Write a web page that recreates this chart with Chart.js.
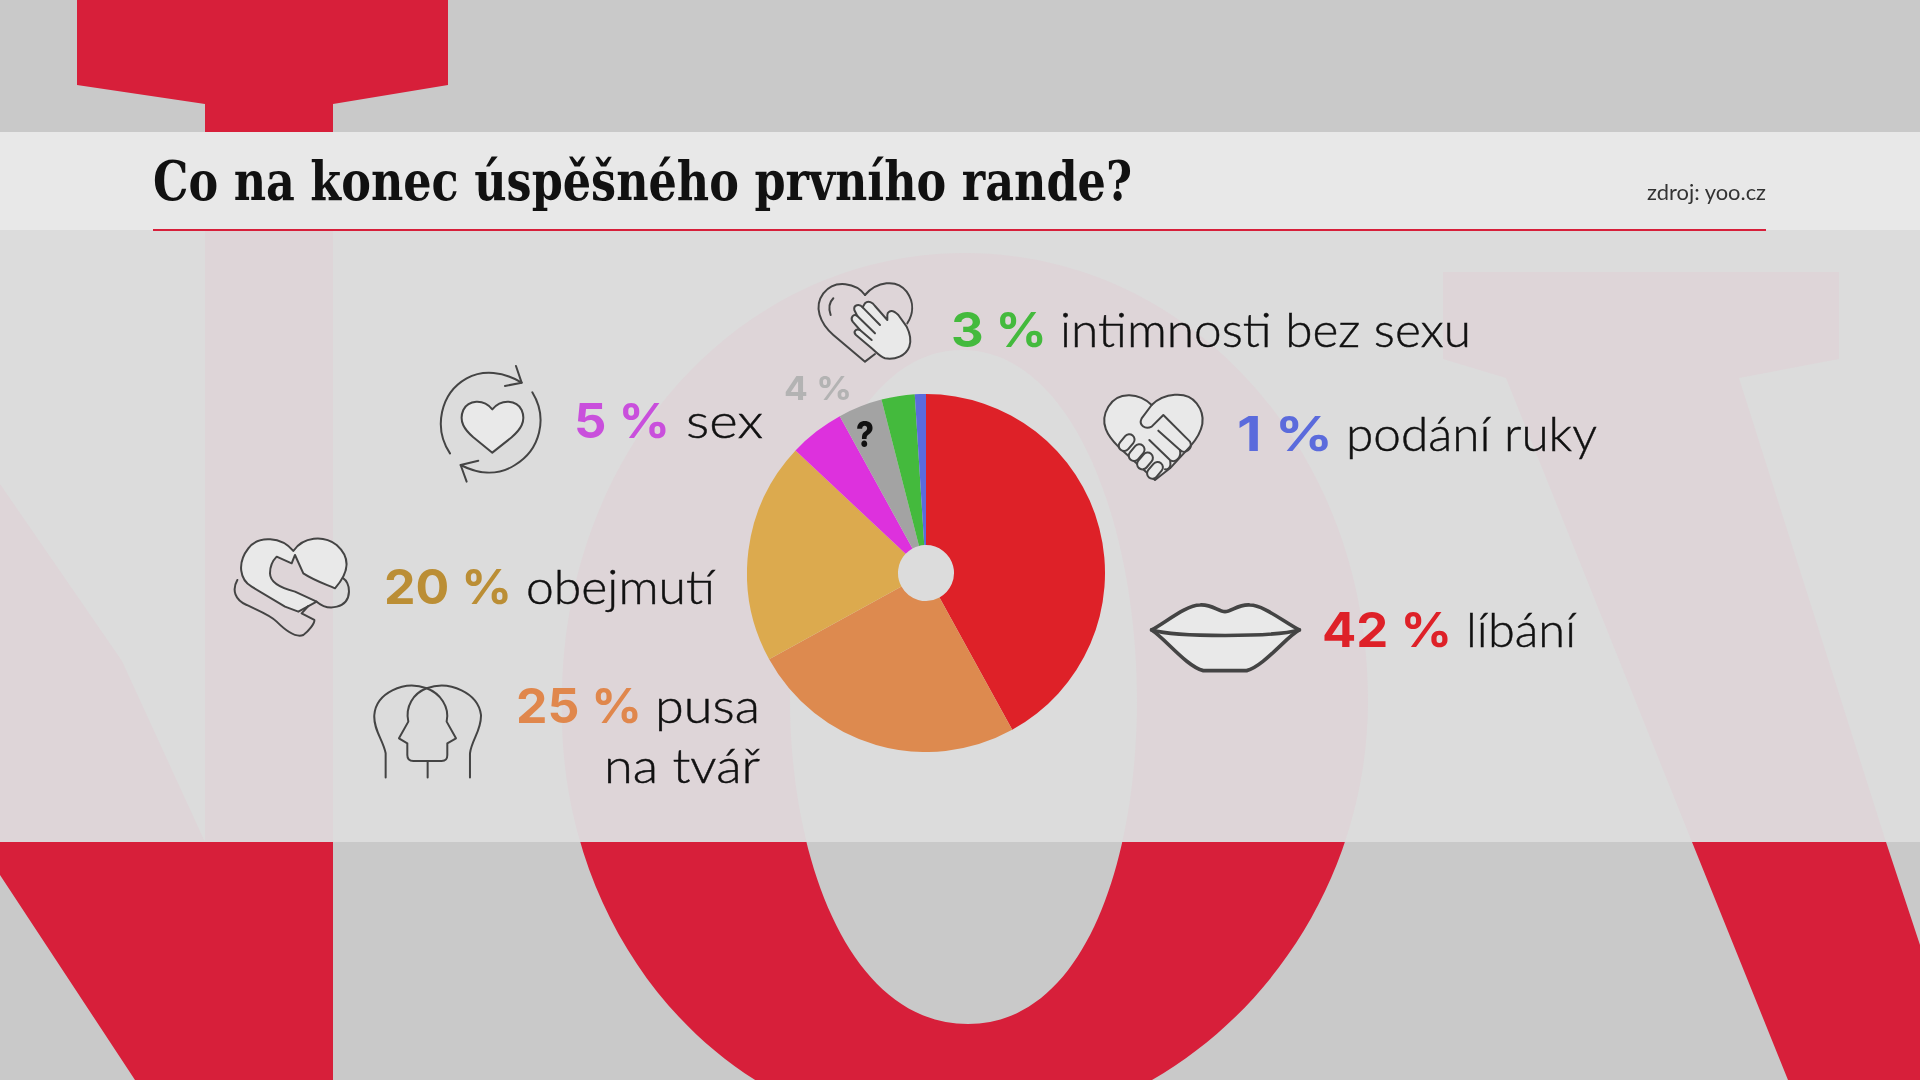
<!DOCTYPE html>
<html lang="cs">
<head>
<meta charset="utf-8">
<title>Co na konec úspěšného prvního rande?</title>
<script src="https://cdn.jsdelivr.net/npm/chart.js@4"></script>
<style>
    html, body { margin: 0; padding: 0; background: #c9c9c9; overflow: hidden; }
    #stage { position: relative; width: 1920px; height: 1080px; overflow: hidden; }
    #stage svg { position: absolute; left: 0; top: 0; }
    #pieWrap { position: absolute; left: 746.5px; top: 393.5px; width: 358px; height: 358px; }
    .icon path, .icon rect { fill: #e9e9e9; stroke: #444; stroke-width: 6; stroke-linejoin: round; stroke-linecap: round; }
    .icon .open { fill: none; }
    /* Lato has no weight between light and regular, so thicken the light one */
    .answer { stroke: #111; stroke-width: 0.45px; }
</style>
</head>
<body>
<div id="stage">
    <!-- big background lettering, red outside the panel and pale inside it -->
    <svg width="1920" height="1080" viewBox="0 0 1920 1080">
        <defs>
            <g id="letters">
                <path d="M77 0H448V85L333 104V1080H135L0 875V484L122 661L205 842V104L77 85Z"/>
                <path fill-rule="evenodd" d="M965 253C1190 253 1368 450 1368 700C1368 935 1185 1135 945 1135C725 1135 556 935 562 700C562 450 740 253 965 253ZM962 350C850 350 790 530 790 700C790 860 850 1024 968 1024C1085 1024 1137 860 1137 700C1137 530 1075 350 962 350Z"/>
                <path d="M1443 272H1839V359L1739 378L1886 842L1920 945V1080H1788L1692 842L1506 378L1443 359Z"/>
            </g>
            <clipPath id="panelClip"><rect x="0" y="230" width="1920" height="612"/></clipPath>
        </defs>
        <rect width="1920" height="1080" fill="#c9c9c9"/>
        <use href="#letters" fill="#d71f3a"/>
        <rect y="230" width="1920" height="612" fill="#dcdcdc"/>
        <use href="#letters" fill="#ded5d8" clip-path="url(#panelClip)"/>
        <rect y="132" width="1920" height="98" fill="#e8e8e8"/>
        <rect x="153" y="229" width="1613" height="2" fill="#d71f3a"/>
    </svg>

    <div id="pieWrap"><canvas id="pieChart" width="358" height="358"></canvas></div>

    <!-- line icons beside each answer -->
    <svg width="1920" height="1080" viewBox="0 0 1920 1080">
        <!-- circling heart -->
        <g class="icon" transform="translate(220 350) scale(.3333)">
            <path d="M817 178C790 145 745 150 730 180C715 215 735 240 760 262L817 308L875 262C900 240 920 215 905 180C890 150 845 145 817 178Z"/>
            <path class="open" d="M690 310C640 235 660 130 740 85C790 58 850 65 905 98"/>
            <path class="open" d="M888 48L905 98L855 108"/>
            <path class="open" d="M937 127C985 205 960 300 885 345C830 380 770 370 722 345"/>
            <path class="open" d="M775 332L722 345L740 395"/>
        </g>
        <!-- hug -->
        <g class="icon" transform="translate(220 350) scale(.3333)">
            <path d="M220 603C185 560 115 555 85 595C50 640 60 690 95 710L195 770L235 785L290 755L225 725C185 715 150 700 150 670C150 650 160 630 170 620L215 640L225 615L250 670C280 690 310 700 345 715C385 670 395 625 350 585C310 555 250 560 220 603Z"/>
            <path class="open" d="M52 690C35 720 45 750 80 765C110 780 150 795 170 815C195 840 225 865 250 855C265 845 285 820 283 810L245 790L265 768"/>
            <path class="open" d="M290 755C325 785 385 775 387 725C388 705 378 690 370 685"/>
        </g>
        <!-- two profiles -->
        <g class="icon" transform="translate(220 350) scale(.3333)">
            <path class="open" d="M497 1283V1210C490 1170 460 1140 463 1095C468 1030 550 990 620 1015C690 990 775 1030 783 1095C785 1140 755 1170 750 1210V1283"/>
            <path class="open" d="M620 1015C580 1030 555 1070 565 1115L537 1165L562 1180V1215C562 1228 570 1233 580 1233H665C680 1233 682 1225 682 1215V1180L708 1165L680 1115C690 1070 660 1030 620 1015Z"/>
            <path class="open" d="M623 1233V1283"/>
        </g>
        <!-- hand on a heart -->
        <g class="icon" transform="translate(800 260) scale(.3333)">
            <path class="open" d="M195 105C170 70 105 55 70 100C40 140 60 190 100 225L195 305L225 282"/>
            <path class="open" d="M195 105C230 65 290 55 320 95C345 130 338 165 322 190"/>
            <path class="open" d="M100 115C85 130 85 145 92 165"/>
            <g transform="translate(0 30)">
                <path d="M268 125C275 120 285 125 295 135L320 170C330 190 335 210 328 230C318 258 285 270 255 265C240 260 230 248 215 235L168 195C158 185 168 175 180 180L158 155C150 143 160 130 172 138L163 120C160 105 178 100 188 112L195 100C205 90 218 98 225 108L262 150L262 135C262 130 264 127 268 125Z"/>
                <path class="open" d="M172 138L225 190M188 112L240 165M180 180L215 210"/>
            </g>
        </g>
        <!-- handshake -->
        <g class="icon" transform="translate(1090 380) scale(.3333)">
            <path d="M185 75C150 40 85 30 55 80C25 130 55 170 85 200L195 300L240 265L300 200C335 160 355 115 320 70C290 30 220 40 185 75Z"/>
            <rect x="82" y="172" width="56" height="32" rx="16" transform="rotate(-50 110 188)"/>
            <rect x="112" y="202" width="56" height="32" rx="16" transform="rotate(-50 140 218)"/>
            <rect x="137" y="227" width="56" height="32" rx="16" transform="rotate(-50 165 243)"/>
            <rect x="167" y="255" width="56" height="32" rx="16" transform="rotate(-50 195 271)"/>
            <path class="open" d="M185 75L155 115C145 135 165 150 185 140L220 105L300 185C310 205 285 225 270 210L205 152"/>
            <path class="open" d="M270 210C275 235 255 250 240 240L178 180M240 240C245 262 235 270 225 268"/>
        </g>
        <!-- lips -->
        <g class="icon" transform="translate(1090 380) scale(.3333)">
            <path style="stroke-width:11" d="M185 750C230 725 290 675 330 675C365 672 385 695 405 695C425 695 445 672 480 675C520 675 580 725 628 750C590 770 520 860 470 872H340C290 860 225 775 185 750Z"/>
            <path class="open" style="stroke-width:11" d="M185 750C260 772 550 772 628 750"/>
        </g>
    </svg>

    <svg id="labels" width="1920" height="1080" viewBox="0 0 1920 1080"></svg>
</div>

<script>
// Answers of the poll, clockwise from twelve o'clock
const categories = ['líbání', 'pusa|na tvář', 'obejmutí', 'sex', '?', 'intimnosti bez sexu', 'podání ruky'];
const percents = [42, 25, 20, 5, 4, 3, 1];
const sliceColors = ['#de2128', '#dd8a4f', '#dcaa4e', '#dd31dd', '#a3a3a3', '#44ba3d', '#5b6bdc'];
const percentColors = ['#de2128', '#e0874c', '#bb8e35', '#c94fdc', '#b3b3b3', '#44ba3d', '#5b6bdc'];

// Where each label sits: x of the percent, its width, x and width of the name, baseline
const labelSpots = [
    { px: 1322, pw: 130, nx: 1466, nw: 110, y: 647 },
    { px: 516, pw: 126, nx: 655, nw: 105, y: 723 },
    { px: 384, pw: 128, nx: 526, nw: 189, y: 604 },
    { px: 574, pw: 96, nx: 686, nw: 77, y: 438 },
    { px: 784, pw: 68, nx: 856, nw: 18, y: 400 },
    { px: 951, pw: 96, nx: 1060, nw: 411, y: 347 },
    { px: 1237, pw: 96, nx: 1346, nw: 251, y: 451 }
];

const SVG_NS = 'http://www.w3.org/2000/svg';
const labelLayer = document.getElementById('labels');

function addText(text, x, y, fit, font, size, weight, color) {
    const node = document.createElementNS(SVG_NS, 'text');
    node.textContent = text;
    node.setAttribute('x', x);
    node.setAttribute('y', y);
    node.setAttribute('font-family', font);
    node.setAttribute('font-size', size);
    node.setAttribute('font-weight', weight);
    node.setAttribute('fill', color);
    if (fit) {
        node.setAttribute('textLength', fit);
        node.setAttribute('lengthAdjust', 'spacingAndGlyphs');
    }
    labelLayer.appendChild(node);
    return node;
}

addText('Co na konec úspěšného prvního rande?', 153, 200, 979, '"DejaVu Serif Condensed", "DejaVu Serif", serif', 54, 700, '#111');
addText('zdroj: yoo.cz', 1647, 200, 119, 'Lato, sans-serif', 21, 400, '#333');

categories.forEach((name, i) => {
    const spot = labelSpots[i];
    const isUnknown = name === '?';
    addText(percents[i] + ' %', spot.px, spot.y, spot.pw, 'Inter, sans-serif', isUnknown ? 33 : 48, 700, percentColors[i]);

    if (isUnknown) {
        addText(name, spot.nx, 447, spot.nw, 'Inter, sans-serif', 36, 800, '#111');
        return;
    }
    const lines = name.split('|');
    addText(lines[0], spot.nx, spot.y, spot.nw, 'Lato, sans-serif', 47, 300, '#111').classList.add('answer');
    if (lines[1]) {
        addText(lines[1], 604, 783, 156, 'Lato, sans-serif', 47, 300, '#111').classList.add('answer');
    }
});

new Chart(document.getElementById('pieChart'), {
    type: 'doughnut',
    data: {
        labels: categories.map(c => c.replace('|', ' ')),
        datasets: [{
            data: percents,
            backgroundColor: sliceColors,
            borderWidth: 0
        }]
    },
    options: {
        responsive: false,
        animation: false,
        cutout: 28,
        layout: { padding: 0 },
        plugins: {
            legend: { display: false },
            tooltip: { enabled: false }
        }
    }
});
</script>
</body>
</html>
